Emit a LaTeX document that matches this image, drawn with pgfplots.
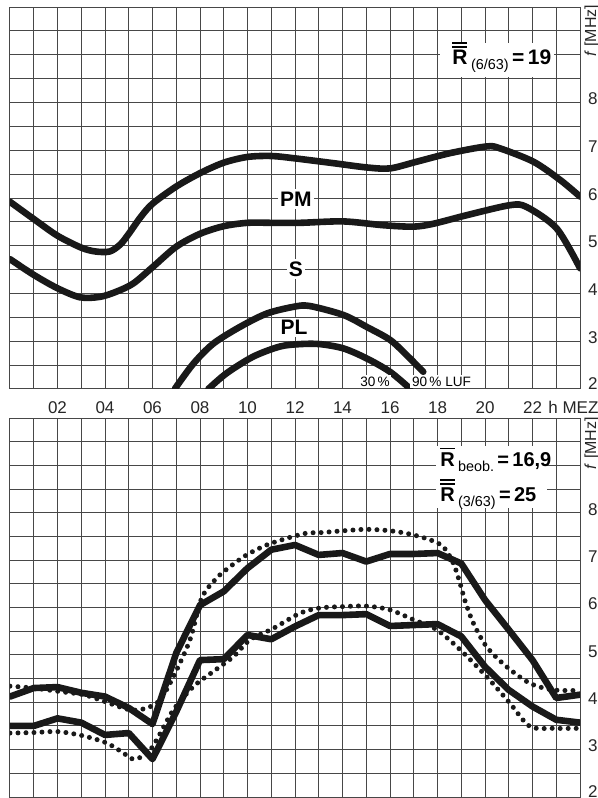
\documentclass[border=0pt]{standalone}
\usepackage{pgfplots}
\pgfplotsset{compat=1.18}
\usepackage{fontspec}
\setmainfont{Liberation Sans}

% bold R with one or two bars over it
\newcommand{\Rb}{\leavevmode\rlap{\rule[8.7pt]{7.4pt}{0.9pt}}\textbf{R}}
\newcommand{\Rbb}{\leavevmode\rlap{\rule[8.5pt]{7.4pt}{0.9pt}}\rlap{\rule[10.3pt]{7.4pt}{0.9pt}}\textbf{R}}
\newcommand{\sub}[1]{\,\raisebox{-0.4ex}{\fontsize{7.2}{8}\selectfont #1}}

\pgfplotsset{
  panel/.style={
    scale only axis, width=285pt, height=191pt,
    xmin=0, xmax=24, ymin=2, ymax=10,
    xtick={2,4,...,22}, minor xtick={0,1,...,24},
    ytick={2,...,8}, minor ytick={2,2.5,...,10},
    yticklabels={\raisebox{2pt}{2},3,4,5,6,7,8},
    grid=both,
    major grid style={black!72, line width=0.5pt},
    minor grid style={black!72, line width=0.5pt},
    axis line style={black!72, line width=0.5pt},
    major tick length=0pt, minor tick length=0pt,
    yticklabel pos=right,
    yticklabel style={anchor=west, xshift=0.5pt, yshift=1.8pt},
    tick label style={font=\fontsize{8.5}{9}\selectfont, black!85},
    /pgf/number format/assume math mode=true,
    clip mode=individual,
  },
  curve/.style={line width=3.3pt, black!90, line join=round, line cap=round, no marks},
  dots/.style={line width=2.5pt, black!90, line cap=round, dash pattern=on 0pt off 4pt, no marks, smooth},
}
\tikzset{lbl/.style={fill=white, inner sep=1.2pt, font=\fontsize{10.5}{11}\selectfont\bfseries}}

\begin{document}
\begin{tikzpicture}
\useasboundingbox (0,0) rectangle (299pt,399pt);

% upper panel: forecast
\begin{axis}[panel, at={(5pt,204.5pt)}, anchor=south west,
  xticklabels={02,04,06,08,10,12,14,16,18,20,22},
  xticklabel style={anchor=base, yshift=-12.5pt}]
\addplot[curve, smooth] coordinates {
 (0,5.92) (1,5.56) (2,5.21) (3,4.96) (3.6,4.88) (4.2,4.88) (4.65,5.03) (5,5.25)
 (5.5,5.60) (6,5.88) (7,6.24) (8,6.52) (9,6.74) (10,6.86) (11,6.88) (12,6.83)
 (13.61,6.73) (15.02,6.64) (16,6.62) (17.12,6.76) (18.53,6.94) (20.07,7.08)
 (20.63,7.04) (22.04,6.76) (23.16,6.38) (24,6.03)
};
\addplot[curve, smooth] coordinates {
 (0,4.72) (1,4.39) (2,4.11) (2.95,3.92) (3.79,3.93) (4.49,4.04) (5.19,4.21)
 (6,4.55) (7,4.98) (8,5.25) (9,5.41) (10,5.48) (11.09,5.48) (12.21,5.48)
 (14.04,5.51) (15.72,5.43) (16.98,5.40) (17.82,5.46) (19.23,5.64)
 (21.05,5.85) (21.76,5.81) (23.02,5.36) (24,4.53)
};
\addplot[curve, smooth] coordinates {
 (6.95,2.01) (7.72,2.53) (8.56,2.95) (9.68,3.30) (10.81,3.58) (11.93,3.72) (12.6,3.74)
 (14.04,3.55) (15.02,3.30) (16.0,3.03) (16.70,2.71) (17.40,2.36)
};
\addplot[curve, smooth] coordinates {
 (8.35,2.0) (9.12,2.33) (10.25,2.68) (11.37,2.89) (12.21,2.94) (13.05,2.94)
 (14.04,2.85) (15.02,2.64) (16.0,2.36) (16.84,2.01)
};
\node[lbl] at (axis cs:12.04,5.98) {PM};
\node[lbl] at (axis cs:12.04,4.51) {S};
\node[lbl] at (axis cs:11.96,3.29) {PL};
\node[fill=white, inner sep=0.8pt, font=\fontsize{6.8}{7}\selectfont] at (axis cs:15.37,2.16) {30\,\%};
\node[fill=white, inner sep=0.8pt, font=\fontsize{6.8}{7}\selectfont] at (axis cs:18.17,2.16) {90\,\% LUF};
\fill[white] (axis cs:18.1,8.53) rectangle (axis cs:22.9,9.25);
\node[anchor=base west, inner sep=0pt, font=\fontsize{10.5}{11}\selectfont] at (axis cs:18.61,8.79)
  {\Rbb\sub{(6/63)}\textbf{\,=\,19}};
\node[rotate=90, font=\fontsize{8}{9}\selectfont, black!85] at (axis cs:24,9.5) [yshift=-6pt] {\textit{f} [MHz]};
\node[anchor=base west, font=\fontsize{8.5}{9}\selectfont, black!85, inner sep=0pt] at (axis cs:22.65,2) [yshift=-12.5pt] {h MEZ};
\end{axis}

% lower panel: observed (solid) and predicted (dotted)
\begin{axis}[panel, at={(5pt,0.5pt)}, anchor=south west, height=189.5pt,
  xticklabels={}]
\addplot[curve] coordinates {
 (0,4.12) (1,4.30) (2,4.32) (3,4.20) (4,4.12) (5,3.88) (6,3.54) (7,5.04) (8,6.05)
 (9,6.34) (10,6.83) (11,7.22) (12,7.32) (13,7.11) (14,7.15) (15,6.97) (16,7.13)
 (17,7.13) (18,7.15) (19,6.93) (20,6.16) (21,5.53) (22,4.89) (23,4.09) (24,4.16)
};
\addplot[curve] coordinates {
 (0,3.50) (1,3.50) (2,3.66) (3,3.57) (4,3.31) (5,3.35) (6,2.80) (7,3.80) (8,4.89)
 (9,4.91) (10,5.42) (11,5.33) (12,5.60) (13,5.84) (14,5.84) (15,5.86) (16,5.61)
 (17,5.63) (18,5.65) (19,5.39) (20,4.75) (21,4.26) (22,3.91) (23,3.63) (24,3.57)
};
\addplot[dots] coordinates {
 (0,4.34) (0.98,4.30) (2.03,4.23) (3.09,4.16) (3.79,4.05) (5.05,3.84) (5.76,3.88)
 (6.32,4.05) (6.88,4.54) (7.58,5.32) (8.07,6.2) (8.7,6.62) (9.26,6.86) (9.96,7.11)
 (10.81,7.32) (11.65,7.46) (12.49,7.57) (13.05,7.58) (14.04,7.62) (15.02,7.65)
 (16.0,7.62) (16.84,7.55) (17.68,7.43) (18.25,7.28) (18.67,6.93) (18.95,6.51)
 (19.16,6.14) (19.51,5.67) (20.07,5.17) (20.91,4.75) (21.89,4.40) (22.88,4.26) (24,4.25)
};
\addplot[dots] coordinates {
 (0,3.35) (0.98,3.36) (2.03,3.38) (3.09,3.29) (4.07,3.14) (4.77,2.93) (5.19,2.80)
 (5.76,2.91) (6.18,3.21) (6.88,3.84) (7.72,4.33) (8.56,4.65) (9.40,4.96) (10.11,5.32)
 (11.09,5.56) (12.21,5.88) (13.05,5.99) (14.04,6.02) (15.02,6.03) (16.0,5.95)
 (17.0,5.74) (17.97,5.53) (18.95,5.11) (20.07,4.54) (21.05,3.98) (21.89,3.49)
 (22.88,3.45) (24,3.45)
};
\fill[white] (axis cs:17.95,8.1) rectangle (axis cs:22.6,9.4);
\node[anchor=base west, inner sep=0pt, font=\fontsize{10}{11}\selectfont] at (axis cs:18.1,8.97)
  {\Rb\sub{beob.}\textbf{\,=\,16,9}};
\node[anchor=base west, inner sep=0pt, font=\fontsize{10}{11}\selectfont] at (axis cs:18.1,8.23)
  {\Rbb\sub{(3/63)}\textbf{\,=\,25}};
\node[rotate=90, font=\fontsize{8}{9}\selectfont, black!85] at (axis cs:24,9.47) [yshift=-6pt] {\textit{f} [MHz]};
\end{axis}
\end{tikzpicture}
\end{document}
